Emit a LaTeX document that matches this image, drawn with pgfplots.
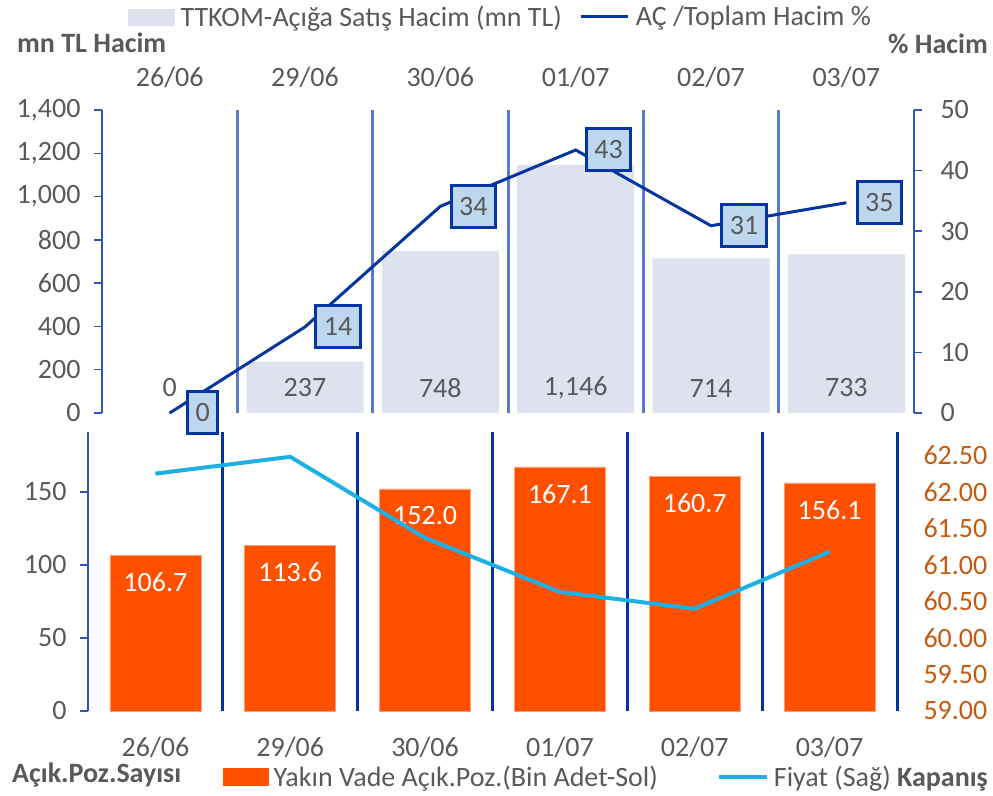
\documentclass[border=0pt]{standalone}
\usepackage{pgfplots}
\pgfplotsset{compat=1.18}
\usepackage{fontspec}
\setmainfont{Carlito}
\definecolor{tgrey}{HTML}{595959}
\definecolor{axisblue}{HTML}{2F55B8}
\definecolor{septop}{HTML}{5A78CC}
\definecolor{sepdark}{HTML}{0033A0}
\definecolor{acblue}{HTML}{0535A0}
\definecolor{lblue}{HTML}{BDD7EE}
\definecolor{barlight}{HTML}{DEE2EE}
\definecolor{barorange}{HTML}{FF5000}
\definecolor{cyanline}{HTML}{1CB0E4}
\definecolor{tickbrown}{HTML}{C55A11}
\newcommand{\fs}{\fontsize{28}{33}\selectfont}
\begin{document}
\begin{tikzpicture}[font=\fs]
\useasboundingbox (0,0) rectangle (993pt,795pt);
\pgfplotsset{
  base/.style={scale only axis, xmin=-0.5, xmax=5.5, clip=false,
    tick label style={font=\fs, text=tgrey},
    /pgf/number format/assume math mode=true,
    tick align=outside, major tick length=8pt,
    ytick style={draw=axisblue, line width=1.5pt},
    y axis line style={draw=axisblue, line width=1.5pt},
  },
}
% ---------- top panel, left axis (bars) ----------
\begin{axis}[base, width=812pt, height=303pt, at={(102pt,382pt)}, anchor=south west,
  ymin=0, ymax=1400, ytick={0,200,...,1400},
  axis y line*=left, axis x line*=top,
  x axis line style={draw=none},
  xtick={0,...,5}, xticklabels={26/06,29/06,30/06,01/07,02/07,03/07},
  xtick style={draw=none},
  xticklabel style={yshift=11pt},
  yticklabel style={xshift=-10pt, /pgf/number format/.cd, fixed, precision=0, 1000 sep={,}},
  extra x ticks={0.5,1.5,2.5,3.5,4.5}, extra x tick labels={},
  extra x tick style={grid=major, major grid style={draw=septop, line width=3pt}, tick style={draw=none}},
]
\addplot[ybar, bar width=117pt, fill=barlight, draw=none] coordinates {(0,0) (1,237) (2,748) (3,1146) (4,714) (5,733)};
\addplot[draw=none, mark=none, nodes near coords, point meta=explicit,
  nodes near coords style={anchor=center, yshift=25pt, text=tgrey, font=\fs,
    /pgf/number format/.cd, fixed, precision=0, 1000 sep={,}, assume math mode=true}]
  table[x=x, y=y, meta=v] {
x y v
0 0 0
1 0 237
2 0 748
3 0 1146
4 0 714
5 0 733
};
\end{axis}
% ---------- top panel, right axis (line) ----------
\begin{axis}[base, width=812pt, height=303pt, at={(102pt,382pt)}, anchor=south west,
  ymin=0, ymax=50, ytick={0,10,...,50},
  axis y line*=right, axis x line=none,
  yticklabel style={xshift=15pt},
  legend style={at={(0.032,1.307)}, anchor=west, draw=none, fill=none, font=\fs, text=tgrey,
    legend columns=-1, inner sep=0pt, nodes={inner sep=0pt},
    /tikz/every odd column/.append style={column sep=6pt},
    /tikz/every even column/.append style={column sep=18pt}},
]
\addlegendimage{legend image code/.code={\fill[barlight] (0pt,-8pt) rectangle (46pt,8pt);}}
\addlegendentry{TTKOM-Açığa Satış Hacim (mn TL)}
\addplot[acblue, line width=3pt, mark=none, nodes near coords,
  legend image code/.code={\draw[acblue, line width=3pt] (0pt,0pt) -- (47pt,0pt);},
  nodes near coords style={anchor=center, xshift=33pt, draw=acblue, line width=3pt, fill=lblue,
    text=tgrey, font=\fs, inner xsep=8pt, inner ysep=0pt, minimum height=42pt,
    /pgf/number format/.cd, fixed, precision=0, assume math mode=true}]
  coordinates {(0,0) (1,14.2) (2,34.1) (3,43.4) (4,30.9) (5,34.7)};
\addlegendentry{AÇ /Toplam Hacim \%}
\end{axis}
% ---------- bottom panel, left axis (bars) ----------
\begin{axis}[base, width=809pt, height=279pt, at={(88pt,84pt)}, anchor=south west,
  ymin=0, ymax=191, ytick={0,50,100,150},
  axis y line*=left, axis x line*=bottom,
  x axis line style={draw=none},
  xtick={0,...,5}, xticklabels={26/06,29/06,30/06,01/07,02/07,03/07},
  xtick style={draw=none},
  xticklabel style={yshift=-15pt},
  yticklabel style={xshift=-10pt},
  extra x ticks={0.5,1.5,2.5,3.5,4.5,5.5}, extra x tick labels={},
  extra x tick style={grid=major, major grid style={draw=sepdark, line width=3pt}, tick style={draw=none}},
]
\addplot[ybar, bar width=91pt, fill=barorange, draw=barorange!55!white, line width=0.8pt,
  nodes near coords,
  nodes near coords style={anchor=center, yshift=-27pt, text=white, font=\fs,
    /pgf/number format/.cd, fixed, fixed zerofill, precision=1, assume math mode=true}]
  coordinates {(0,106.7) (1,113.6) (2,152.0) (3,167.1) (4,160.7) (5,156.1)};
\end{axis}
% ---------- bottom panel, right axis (price line) ----------
\begin{axis}[base, width=809pt, height=279pt, at={(88pt,84pt)}, anchor=south west,
  ymin=59, ymax=62.82, ytick={59,59.5,60,60.5,61,61.5,62,62.5},
  axis y line*=right, axis x line=none,
  y axis line style={draw=none}, ytick style={draw=none},
  yticklabel style={xshift=15pt, text=tickbrown, /pgf/number format/.cd, fixed, fixed zerofill, precision=2},
  legend style={at={(0.1669,-0.2348)}, anchor=west, draw=none, fill=none, font=\fs, text=tgrey,
    legend columns=-1, inner sep=0pt, nodes={inner sep=0pt},
    /tikz/every odd column/.append style={column sep=5pt},
    /tikz/every even column/.append style={column sep=59pt}},
]
\addlegendimage{legend image code/.code={\fill[barorange] (0pt,-8.5pt) rectangle (45pt,8.5pt);}}
\addlegendentry{Yakın Vade Açık.Poz.(Bin Adet-Sol)}
\addplot[cyanline, line width=4pt, mark=none,
  legend image code/.code={\draw[cyanline, line width=4pt] (0pt,0pt) -- (48pt,0pt);}]
  coordinates {(0,62.25) (1,62.48) (2,61.37) (3,60.63) (4,60.40) (5,61.18)};
\addlegendentry{Fiyat (Sağ) \textbf{Kapanış}}
\end{axis}
% ---------- free texts ----------
\node[anchor=base west, inner sep=0pt, text=tgrey] at (17pt,742pt) {\bfseries mn TL Hacim};
\node[anchor=base east, inner sep=0pt, text=tgrey] at (988pt,741pt) {\bfseries\% Hacim};
\node[anchor=base west, inner sep=0pt, text=tgrey] at (12pt,12.3pt) {\bfseries Açık.Poz.Sayısı};
\end{tikzpicture}
\end{document}
